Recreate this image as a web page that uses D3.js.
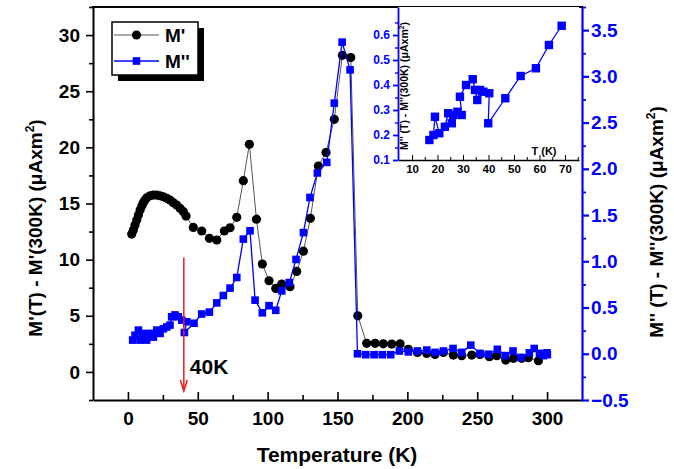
<!DOCTYPE html>
<html>
<head>
<meta charset="utf-8">
<script src="https://cdn.jsdelivr.net/npm/d3@7/dist/d3.min.js"></script>
<style>
body { margin:0; background:#fff; }
text { font-family:"Liberation Sans", Arial, sans-serif; font-weight:bold; }
</style>
</head>
<body>
<svg id="mysvg" width="674" height="469"></svg>
<script>

// M' (black circles, left axis)
var tempReal = [2.7,3.9,5.1,6.3,7.5,8.7,9.9,11.0,12.2,13.5,15.8,18.2,20.6,23.0,25.3,27.8,30.1,32.5,34.9,37.3,39.7,41.6,
	46.8,52.8,58.3,63.6,69.0,73.1,77.9,82.6,86.9,92.0,96.2,101.0,105.8,110.1,116.0,120.8,125.6,130.6,136.3,141.8,147.7,153.5,159.5,
	164.5,170.9,176.9,182.8,188.8,194.8,200.7,207.2,213.9,219.8,225.8,232.9,238.9,246.1,252.0,258.7,264.0,270.4,275.9,281.9,286.6,293.8];
var mReal = [12.28,12.64,13.08,13.53,13.97,14.42,14.77,15.07,15.31,15.51,15.69,15.75,15.75,15.69,15.60,15.46,15.31,15.07,14.86,14.57,14.27,13.88,
	12.87,12.55,11.9,11.75,12.55,12.84,13.77,17.03,20.27,13.6,9.61,8.12,7.44,7.83,7.59,8.95,10.75,13.68,18.34,19.55,22.5,28.2,28.0,
	5.0,2.55,2.55,2.5,2.48,2.5,2.01,1.74,1.65,1.56,1.74,1.5,1.45,1.5,1.56,1.36,1.45,1.06,1.21,1.21,1.27,1.0];

// M'' (blue squares, right axis)
var tempImag = [3.4,5.1,7.5,8.7,11.0,13.4,15.8,18.2,20.6,23.0,25.4,27.8,30.1,31.3,33.7,36.1,38.5,42.1,40.4,
	47.3,52.8,58.3,63.6,68.3,73.1,77.9,82.6,87.4,91.0,96.2,101.0,105.8,110.1,115.5,120.3,125.6,130.3,135.6,142.3,147.7,153.3,159.0,
	164.3,170.2,176.2,182.1,188.1,194.3,200.7,207.2,213.9,219.8,225.8,232.7,238.9,245.4,252.0,257.9,264.4,270.0,275.6,281.3,287.3,290.8,294.6,297.5,299.9,300.2];
var mImag = [0.148,0.20,0.256,0.148,0.22,0.148,0.22,0.18,0.256,0.22,0.27,0.29,0.31,0.40,0.42,0.40,0.364,0.346,0.23,
	0.33,0.43,0.45,0.55,0.63,0.71,0.825,1.24,1.33,0.58,0.443,0.52,0.47,0.68,0.77,1.02,1.31,1.69,1.955,2.07,2.71,3.37,3.07,
	0.0,-0.01,-0.01,-0.01,-0.01,0.03,0.02,0.03,0.04,0.015,0.03,0.057,0.015,0.093,0.004,-0.005,0.048,-0.02,0.03,-0.04,0.01,0.057,0.004,-0.02,0.01,-0.01];

// inset: M'' at low temperature
var tempInset = [16.8,18.4,19.0,20.7,22.9,24.2,25.6,26.2,27.8,29.5,28.8,31.2,33.8,34.7,35.6,36.7,38.0,40.3,39.9,46.6,52.6,58.6,63.7,68.7];
var mInset = [0.18,0.20,0.273,0.207,0.233,0.287,0.247,0.28,0.293,0.28,0.353,0.40,0.423,0.38,0.34,0.38,0.373,0.367,0.247,0.347,0.436,0.467,0.56,0.637];

var xTicks = [0,50,100,150,200,250,300];
var yLeftTicks = [0,5,10,15,20,25,30];
var yRightTicks = [-0.5,0.0,0.5,1.0,1.5,2.0,2.5,3.0,3.5];
var insetXTicks = [10,20,30,40,50,60,70];
var insetYTicks = [0.1,0.2,0.3,0.4,0.5,0.6];

// 40K marker arrow (temperature, from, to in M' units)
var arrowT = 40;
var arrowFrom = 10.2;
var arrowTo = -1.7;

var svg = d3.select("#mysvg");
var blue = "#0000ff";

var x = d3.scaleLinear().domain([-25, 325]).range([93, 582]);
var yL = d3.scaleLinear().domain([-2.5, 32.5]).range([400, 7]);
var yR = d3.scaleLinear().domain([-0.5, 3.75]).range([400, 7]);

function minorOf(ticks, step) {
	var out = [];
	for (var i = 0; i < ticks.length; i++) out.push(ticks[i] + step);
	return out;
}

// ---- main axes
var gx = svg.append("g").attr("transform", "translate(0,400)");
gx.call(d3.axisBottom(x).tickValues(xTicks).tickSizeInner(-8).tickSizeOuter(0).tickPadding(12).tickFormat(d3.format("d")));
svg.append("g").attr("transform", "translate(0,400)")
	.call(d3.axisBottom(x).tickValues(minorOf(xTicks, 25).slice(0, 6)).tickSizeInner(-5).tickSizeOuter(0).tickFormat(""))
	.select(".domain").remove();

var gl = svg.append("g").attr("transform", "translate(93,0)");
gl.call(d3.axisLeft(yL).tickValues(yLeftTicks).tickSizeInner(7).tickSizeOuter(0).tickPadding(6).tickFormat(d3.format("d")));
svg.append("g").attr("transform", "translate(93,0)")
	.call(d3.axisLeft(yL).tickValues([-2.5].concat(minorOf(yLeftTicks, 2.5))).tickSizeInner(4).tickSizeOuter(0).tickFormat(""))
	.select(".domain").remove();

var gr = svg.append("g").attr("transform", "translate(582,0)");
gr.call(d3.axisRight(yR).tickValues(yRightTicks).tickSizeInner(7).tickSizeOuter(0).tickPadding(4).tickFormat(d3.format(".1f")));
var grm = svg.append("g").attr("transform", "translate(582,0)");
grm.call(d3.axisRight(yR).tickValues(minorOf(yRightTicks, 0.25)).tickSizeInner(4).tickSizeOuter(0).tickFormat(""))
	.select(".domain").remove();

svg.selectAll(".domain").attr("stroke-width", 2);
svg.selectAll(".tick line").attr("stroke-width", 1.6);
gx.selectAll("text").attr("font-size", 19).attr("fill", "#000");
gl.selectAll("text").attr("font-size", 19).attr("fill", "#000");
gr.selectAll("text").attr("font-size", 19).attr("fill", blue).attr("dx", "-0.1em");
gr.selectAll(".domain, .tick line").attr("stroke", blue).attr("stroke-width", 2.2);
grm.selectAll(".tick line").attr("stroke", blue).attr("stroke-width", 1.8);

svg.append("line")
	.attr("x1", 92).attr("x2", 583)
	.attr("y1", 7).attr("y2", 7)
	.attr("stroke", "#000").attr("stroke-width", 2);

// ---- axis titles
svg.append("text")
	.attr("font-size", 21)
	.attr("x", 337).attr("y", 462)
	.attr("text-anchor", "middle")
	.text("Temperature (K)");

var tl = svg.append("text")
	.attr("font-size", 19)
	.attr("text-anchor", "middle")
	.attr("transform", "translate(42,228) rotate(-90)");
tl.append("tspan").text("M'(T) - M'(300K) (\u03bcAxm");
tl.append("tspan").attr("font-size", 12).attr("dy", -8).text("2");
tl.append("tspan").attr("dy", 8).text(")");

var tr = svg.append("text")
	.attr("font-size", 19)
	.attr("text-anchor", "middle")
	.attr("transform", "translate(663,222) rotate(-90)");
tr.append("tspan").text("M'' (T) - M''(300K) (\u03bcAxm");
tr.append("tspan").attr("font-size", 12).attr("dy", -8).text("2");
tr.append("tspan").attr("dy", 8).text(")");

// ---- data
var lineReal = d3.line().x(function(d) { return x(d[0]); }).y(function(d) { return yL(d[1]); });
var lineImag = d3.line().x(function(d) { return x(d[0]); }).y(function(d) { return yR(d[1]); });
var realPts = d3.zip(tempReal, mReal);
var imagPts = d3.zip(tempImag, mImag);

svg.append("path").datum(realPts)
	.attr("d", lineReal)
	.attr("fill", "none").attr("stroke", "#555").attr("stroke-width", 1);
svg.append("g").selectAll("circle").data(realPts).enter().append("circle")
	.attr("cx", function(d) { return x(d[0]); })
	.attr("cy", function(d) { return yL(d[1]); })
	.attr("r", 4.6)
	.attr("fill", "#000");

svg.append("path").datum(imagPts)
	.attr("d", lineImag)
	.attr("fill", "none").attr("stroke", blue).attr("stroke-width", 1.3);
svg.append("g").selectAll("rect").data(imagPts).enter().append("rect")
	.attr("x", function(d) { return x(d[0]) - 3.8; })
	.attr("y", function(d) { return yR(d[1]) - 3.8; })
	.attr("width", 7.6).attr("height", 7.6)
	.attr("fill", blue);

// ---- 40K arrow
var red = "#ee1c1c";
var ax = x(arrowT);
svg.append("line")
	.attr("x1", ax).attr("x2", ax)
	.attr("y1", yL(arrowFrom)).attr("y2", yL(arrowTo))
	.attr("stroke", red).attr("stroke-width", 1.5);
svg.append("path")
	.attr("d", "M" + (ax - 3.5) + "," + (yL(arrowTo) - 11) + "L" + ax + "," + yL(arrowTo) + "L" + (ax + 3.5) + "," + (yL(arrowTo) - 11))
	.attr("fill", "none").attr("stroke", red).attr("stroke-width", 1.5);
svg.append("text")
	.attr("font-size", 21)
	.attr("x", ax + 6).attr("y", yL(arrowTo) - 17)
	.text(arrowT + "K");

// ---- legend
svg.append("rect").attr("x", 118).attr("y", 28).attr("width", 86).attr("height", 53).attr("fill", "#000");
svg.append("rect").attr("x", 112).attr("y", 22).attr("width", 86).attr("height", 53)
	.attr("fill", "#fff").attr("stroke", "#000").attr("stroke-width", 1.5);
svg.append("line").attr("x1", 114).attr("x2", 159).attr("y1", 35).attr("y2", 35).attr("stroke", "#555").attr("stroke-width", 1);
svg.append("circle").attr("cx", 136.5).attr("cy", 35).attr("r", 4.6).attr("fill", "#000");
svg.append("text").attr("font-size", 19).attr("x", 165).attr("y", 42).text("M'");
svg.append("line").attr("x1", 114).attr("x2", 159).attr("y1", 61).attr("y2", 61).attr("stroke", blue).attr("stroke-width", 1.3);
svg.append("rect").attr("x", 132.7).attr("y", 57.2).attr("width", 7.6).attr("height", 7.6).attr("fill", blue);
svg.append("text").attr("font-size", 19).attr("x", 165).attr("y", 68).text("M''");

// ---- inset
var ix = d3.scaleLinear().domain([4.5, 75.5]).range([398, 579]);
var iy = d3.scaleLinear().domain([0.1, 0.712]).range([160, 7]);

svg.append("rect").attr("x", 398).attr("y", 7).attr("width", 181).attr("height", 153).attr("fill", "#fff");

var igx = svg.append("g").attr("transform", "translate(0,160)");
igx.call(d3.axisBottom(ix).tickValues(insetXTicks).tickSizeInner(-5).tickSizeOuter(0).tickPadding(5).tickFormat(d3.format("d")));
svg.append("g").attr("transform", "translate(0,160)")
	.call(d3.axisBottom(ix).tickValues(minorOf(insetXTicks, 5)).tickSizeInner(-3).tickSizeOuter(0).tickFormat(""))
	.select(".domain").remove();
igx.select(".domain").attr("stroke-width", 1.6);
igx.selectAll("text").attr("font-size", 11.5).attr("fill", "#000");

var igy = svg.append("g").attr("transform", "translate(398,0)");
igy.call(d3.axisLeft(iy).tickValues(insetYTicks).tickSizeInner(5).tickSizeOuter(0).tickPadding(3).tickFormat(d3.format(".1f")));
var igym = svg.append("g").attr("transform", "translate(398,0)");
igym.call(d3.axisLeft(iy).tickValues(minorOf(insetYTicks, 0.05)).tickSizeInner(3).tickSizeOuter(0).tickFormat(""))
	.select(".domain").remove();
igy.selectAll(".domain, .tick line").attr("stroke", blue).attr("stroke-width", 1.8);
igym.selectAll(".tick line").attr("stroke", blue).attr("stroke-width", 1.4);
igy.selectAll("text").attr("font-size", 12).attr("fill", blue);

var it = svg.append("text")
	.attr("font-size", 10.5)
	.attr("text-anchor", "middle")
	.attr("transform", "translate(408,86) rotate(-90)");
it.append("tspan").text("M'' (T) - M''(300K) (\u03bcAxm");
it.append("tspan").attr("font-size", 7).attr("dy", -4).text("2");
it.append("tspan").attr("dy", 4).text(")");

svg.append("text")
	.attr("font-size", 11)
	.attr("x", 544).attr("y", 155)
	.attr("text-anchor", "middle")
	.text("T (K)");

var insetPts = d3.zip(tempInset, mInset);
svg.append("path").datum(insetPts)
	.attr("d", d3.line().x(function(d) { return ix(d[0]); }).y(function(d) { return iy(d[1]); }))
	.attr("fill", "none").attr("stroke", blue).attr("stroke-width", 1.3);
svg.append("g").selectAll("rect").data(insetPts).enter().append("rect")
	.attr("x", function(d) { return ix(d[0]) - 4.2; })
	.attr("y", function(d) { return iy(d[1]) - 4.2; })
	.attr("width", 8.4).attr("height", 8.4)
	.attr("fill", blue);

</script>
</body>
</html>
